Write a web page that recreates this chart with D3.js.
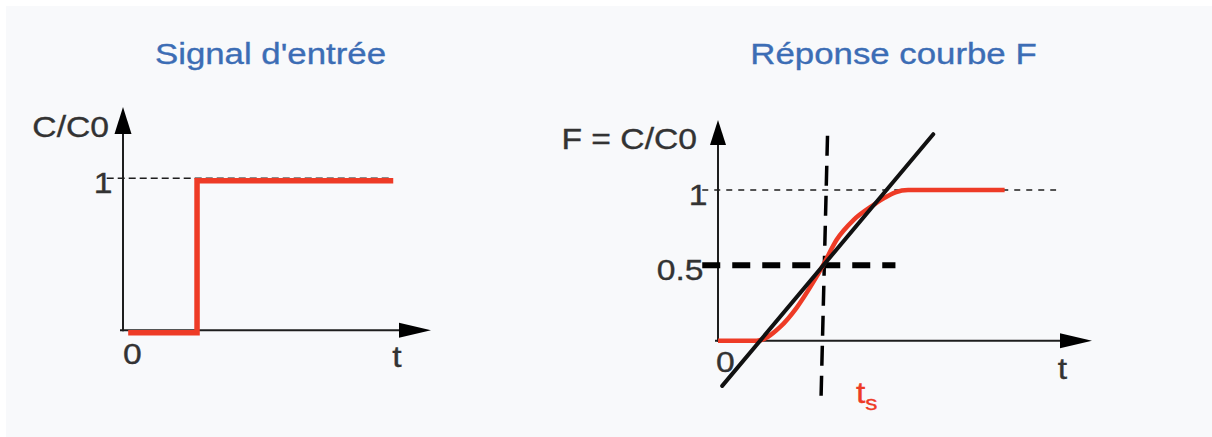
<!DOCTYPE html>
<html>
<head>
<meta charset="utf-8">
<script src="https://cdn.jsdelivr.net/npm/d3@7/dist/d3.min.js"></script>
<style>
	body { margin: 0; background: #fff; }
	svg { display: block; }
</style>
</head>
<body>
<div id="chart"></div>
<script>
"use strict";

/* == DATA == */
// input signal (step) : t in units of the step time, C/C0
var inputT = [0.07, 1, 1, 3.65];
var inputC = [0, 0, 1, 1];

// response curve F, t in units of ts
var responseT = [0, 0.37, 0.59, 0.75, 0.9, 1.0, 1.13, 1.29, 1.48, 1.59, 1.69, 1.81, 2.73];
var responseF = [0, 0, 0.09, 0.22, 0.38, 0.5, 0.67, 0.8, 0.9, 0.95, 0.985, 1, 1];

// tangent at ts
var tangentT = [0.04, 2.05];
var tangentF = [-0.3, 1.37];

// vertical dashed at ts (slightly slanted in the picture)
var tsT = [1.043, 0.981];
var tsF = [1.36, -0.39];

// horizontal dashed at F = 0.5
var halfT = [-0.15, 1.69];
var halfF = [0.5, 0.5];

// reference lines at 1
var leftRefT = [-0.22, 3.61];
var rightRefT = [-0.15, 3.22];

var leftTickValues = [1], leftTickLabels = ["1"];
var rightTickValues = [1, 0.5], rightTickLabels = ["1", "0.5"];

var titles = ["Signal d'entrée", "Réponse courbe F"];
var yTitles = ["C/C0", "F = C/C0"];

/* == BOILERPLATE == */
var width = 1212, height = 437;
var red = "#ee3b26", ink = "#1e1e1e", blue = "#3c6db5";
var font = "'Liberation Sans', Arial, sans-serif";
var sx = 1.16; // the picture is stretched sideways

var svg = d3.select("#chart").append("svg")
	.attr("width", width)
	.attr("height", height);

svg.append("rect")
	.attr("x", 6).attr("y", 6)
	.attr("width", width - 6).attr("height", height - 6)
	.attr("fill", "#f8f9fb");

// scales for the two panels
var xL = d3.scaleLinear().domain([0, 4.16]).range([123, 431]),
	yL = d3.scaleLinear().domain([0, 1]).range([330.3, 178.3]);
var xR = d3.scaleLinear().domain([0, 3.562]).range([718, 1092]),
	yR = d3.scaleLinear().domain([0, 1]).range([340.7, 190]);

function label(txt, x, y, size, fill, anchor) {
	var t = svg.append("text")
		.attr("x", x).attr("y", y)
		.attr("font-family", font)
		.attr("font-size", size)
		.attr("fill", fill)
		.attr("stroke", fill).attr("stroke-width", 0.35)
		.attr("text-anchor", anchor || "start")
		.text(txt);
	t.attr("textLength", t.node().getComputedTextLength() * sx)
		.attr("lengthAdjust", "spacingAndGlyphs");
	return t;
}

var line = d3.line();

function axes(x, y, yTop, yLen, yHalf) {
	var x0 = x(0), y0 = y(0), xEnd = x.range()[1], yEnd = y(yTop);
	svg.append("line")
		.attr("x1", x0).attr("y1", y0 + 1).attr("x2", x0).attr("y2", yEnd + 10)
		.attr("stroke", ink).attr("stroke-width", 2);
	svg.append("line")
		.attr("x1", x0 - 3).attr("y1", y0).attr("x2", xEnd - 10).attr("y2", y0)
		.attr("stroke", ink).attr("stroke-width", 2);
	// arrow heads
	svg.append("path")
		.attr("d", line([[x0, yEnd], [x0 - yHalf, yEnd + yLen], [x0 + yHalf, yEnd + yLen]]) + "Z")
		.attr("fill", "#000");
	svg.append("path")
		.attr("d", line([[xEnd, y0], [xEnd - 32, y0 - 7.5], [xEnd - 32, y0 + 7.5]]) + "Z")
		.attr("fill", "#000");
}

/* == LEFT : Signal d'entrée == */
svg.append("line")
	.attr("x1", xL(leftRefT[0])).attr("x2", xL(leftRefT[1]))
	.attr("y1", yL(1)).attr("y2", yL(1))
	.attr("stroke", ink).attr("stroke-width", 1.4)
	.attr("stroke-dasharray", "7,4");

axes(xL, yL, 1.469, 27, 8.5);

svg.append("path")
	.attr("d", d3.line().x(function (d, i) { return xL(inputT[i]); })
		.y(function (d, i) { return yL(inputC[i]); })(inputT))
	.attr("transform", "translate(0,2.5)")
	.attr("fill", "none").attr("stroke", red).attr("stroke-width", 5.5)
	.attr("stroke-linejoin", "miter");

label(titles[0], 270.5, 64, 30, blue, "middle");
label(yTitles[0], 109, 137, 29, "#333", "end");
leftTickValues.forEach(function (v, i) {
	label(leftTickLabels[i], 112.5, yL(v) + 15, 29, "#333", "end");
});
label("0", xL(0) + 9.5, 364, 29, "#333", "middle");
label("t", xL(3.7), 367, 29, "#333", "middle");

/* == RIGHT : Réponse courbe F == */
svg.append("line")
	.attr("x1", xR(rightRefT[0])).attr("x2", xR(rightRefT[1]))
	.attr("y1", yR(1)).attr("y2", yR(1))
	.attr("stroke", ink).attr("stroke-width", 1.4)
	.attr("stroke-dasharray", "6,6");

axes(xR, yR, 1.4645, 25, 8);

svg.append("path")
	.attr("d", d3.line().x(function (d, i) { return xR(halfT[i]); })
		.y(function (d, i) { return yR(halfF[i]); })(halfT))
	.attr("stroke", "#000").attr("stroke-width", 6)
	.attr("stroke-dasharray", "18,12");

svg.append("path")
	.attr("d", d3.line().x(function (d, i) { return xR(tsT[i]); })
		.y(function (d, i) { return yR(tsF[i]); })(tsT))
	.attr("stroke", "#000").attr("stroke-width", 3.5)
	.attr("stroke-dasharray", "20,10");

svg.append("path")
	.attr("d", d3.line().curve(d3.curveMonotoneX)
		.x(function (d, i) { return xR(responseT[i]); })
		.y(function (d, i) { return yR(responseF[i]); })(responseT))
	.attr("fill", "none").attr("stroke", red).attr("stroke-width", 4.5);

svg.append("path")
	.attr("d", d3.line().x(function (d, i) { return xR(tangentT[i]); })
		.y(function (d, i) { return yR(tangentF[i]); })(tangentT))
	.attr("stroke", "#111").attr("stroke-width", 4)
	.attr("stroke-linecap", "round");

label(titles[1], 893.5, 64, 30, blue, "middle");
label(yTitles[1], 697, 149, 29, "#333", "end");
rightTickValues.forEach(function (v, i) {
	label(rightTickLabels[i], v === 1 ? 707.5 : 703.5, yR(v) + 15, 29, "#333", "end");
});
label("0", xR(0) + 7.5, 372, 29, "#333", "middle");
label("t", xR(3.28), 379, 29, "#333", "middle");

var ts = svg.append("text")
	.attr("x", 856).attr("y", 403)
	.attr("font-family", font).attr("fill", red)
	.attr("stroke", red).attr("stroke-width", 0.35);
ts.append("tspan").attr("font-size", 29).text("t");
ts.append("tspan").attr("font-size", 21).attr("dy", 7).text("s");
ts.attr("transform", "translate(856,0) scale(" + sx + ",1) translate(-856,0)");
</script>
</body>
</html>
